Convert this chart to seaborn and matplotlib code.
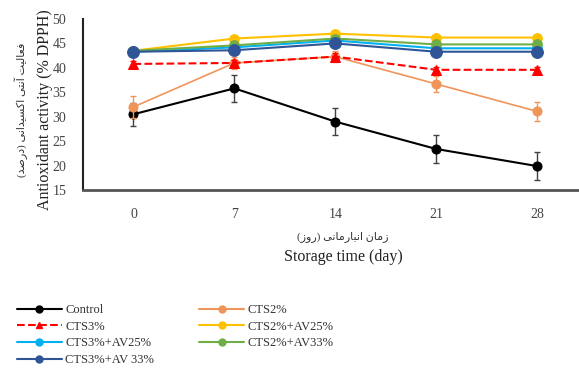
import matplotlib
matplotlib.use("Agg")
import matplotlib.pyplot as plt
from matplotlib.lines import Line2D
import seaborn as sns
import pandas as pd
import numpy as np

days = [0, 7, 14, 21, 28]
series_names = ["Control", "CTS2%", "CTS3%", "CTS2%+AV25%", "CTS3%+AV25%", "CTS2%+AV33%", "CTS3%+AV 33%"]
control = [30.5, 35.8, 29.0, 23.4, 19.9]
control_err = [2.3, 2.8, 2.8, 2.8, 2.9]
cts2 = [32.0, 41.0, 42.3, 36.7, 31.1]
cts2_err = [2.2, 1.2, 1.2, 1.6, 2.0]
cts3 = [40.8, 41.0, 42.3, 39.6, 39.6]
cts3_err = [0.6, 0.6, 0.8, 0.6, 0.6]
cts2_av25 = [43.5, 46.0, 47.0, 46.2, 46.2]
cts2_av25_err = [0.5, 0.6, 0.6, 0.6, 0.6]
cts3_av25 = [43.3, 44.2, 45.6, 44.0, 44.0]
cts3_av25_err = [0.5, 0.5, 0.5, 0.5, 0.5]
cts2_av33 = [43.5, 44.6, 46.0, 44.8, 44.8]
cts2_av33_err = [0.5, 0.5, 0.5, 0.5, 0.5]
cts3_av33 = [43.3, 43.6, 45.0, 43.3, 43.3]
cts3_av33_err = [0.5, 0.5, 0.5, 0.5, 0.5]
yticks = [15, 20, 25, 30, 35, 40, 45, 50]

values = [control, cts2, cts3, cts2_av25, cts3_av25, cts2_av33, cts3_av33]
errors = [control_err, cts2_err, cts3_err, cts2_av25_err, cts3_av25_err, cts2_av33_err, cts3_av33_err]
colors = ["#000000", "#F0955A", "#FF0000", "#FFC000", "#00B0F0", "#70AD47", "#2F5597"]
markers = ["o", "o", "^", "o", "o", "o", "o"]
styles = ["-", "-", "--", "-", "-", "-", "-"]
msizes = [6.5, 6.5, 7.5, 7, 7, 7, 8.5]
lwidths = [1.5, 1.2, 1.5, 1.5, 1.5, 1.5, 1.5]

rows = []
for name, v, e in zip(series_names, values, errors):
    for d, vv, ee in zip(days, v, e):
        rows.append({"day": d, "value": vv, "err": ee, "series": name})
df = pd.DataFrame(rows)

sns.set_style("white")
plt.rcParams["font.family"] = ["Liberation Serif", "DejaVu Sans"]

fig = plt.figure(figsize=(5.79, 3.68), dpi=100)
ax = fig.add_axes([0.1434, 0.4837, 0.855, 0.4647])

draw_order = [0, 1, 2, 3, 5, 4, 6]
for i in draw_order:
    name = series_names[i]
    sub = df[df["series"] == name]
    ax.errorbar(sub["day"], sub["value"], yerr=sub["err"], fmt="none",
                ecolor="#404040" if i == 0 else colors[i], elinewidth=1.0,
                capsize=2.5, capthick=1.0, zorder=2 + i)
    sns.lineplot(data=sub, x="day", y="value", ax=ax, color=colors[i],
                 linestyle=styles[i], marker=markers[i], markersize=msizes[i],
                 markeredgecolor=colors[i], linewidth=lwidths[i],
                 zorder=3 + i, errorbar=None, legend=False)

ax.set_xlim(-3.5, 30.85)
ax.set_ylim(15, 50)
ax.set_xticks(days)
ax.set_xticklabels([str(d) for d in days])
ax.set_yticks(yticks)
ax.set_yticklabels([str(t) for t in yticks])
ax.tick_params(axis="both", length=0, labelsize=10, colors="#444444")
ax.tick_params(axis="x", pad=13)
ax.tick_params(axis="y", pad=12)
for s in ["top", "right"]:
    ax.spines[s].set_visible(False)
ax.spines["left"].set_color("#222222")
ax.spines["left"].set_linewidth(1.5)
ax.spines["bottom"].set_color("#555555")
ax.spines["bottom"].set_linewidth(2.0)
ax.set_xlabel("")
ax.set_ylabel("")

fa_x = "(\uFEAF\uFEED\uFEAD) \uFEF0\uFEE7\uFE8E\uFEE3\uFEAD\uFE8E\uFE92\uFEE7\uFE8D \uFEE5\uFE8E\uFEE3\uFEAF"
fa_y = "(\uFEAA\uFEBB\uFEAD\uFEA9) \uFEF0\uFEE7\uFE8D\uFEAA\uFEF4\uFEB4\uFEDB\uFE8D \uFEF0\uFE98\uFEE7\uFE81 \uFE96\uFEF4\uFEDF\uFE8E\uFECC\uFED3"

fig.text(0.5925, 1 - 237 / 368, fa_x, ha="center", va="center", fontsize=8, color="#333333")
fig.text(0.5925, 1 - 257 / 368, "Storage time (day)", ha="center", va="center", fontsize=11.5, color="#222222")
fig.text(21 / 579, 1 - 110 / 368, fa_y, ha="center", va="center", rotation=90, fontsize=8, color="#333333")
fig.text(45 / 579, 1 - 110 / 368, "Antioxidant activity (% DPPH)", ha="center", va="center", rotation=90, fontsize=11.5, color="#222222")

legend_order = [0, 2, 4, 6, 1, 3, 5]
handles = [Line2D([], [], color=colors[i], linestyle=styles[i], marker=markers[i],
                  markersize=5, linewidth=1.5) for i in legend_order]
labels = [series_names[i] for i in legend_order]
leg = fig.legend(handles, labels, loc="upper left",
                 bbox_to_anchor=(0.02, 1 - 299 / 368), ncol=2, frameon=False,
                 fontsize=9, handlelength=3.6, columnspacing=3.6, labelspacing=0.38,
                 handletextpad=0.3, borderaxespad=0)
for t in leg.get_texts():
    t.set_color("#333333")

fig.savefig("out.png", dpi=100)
